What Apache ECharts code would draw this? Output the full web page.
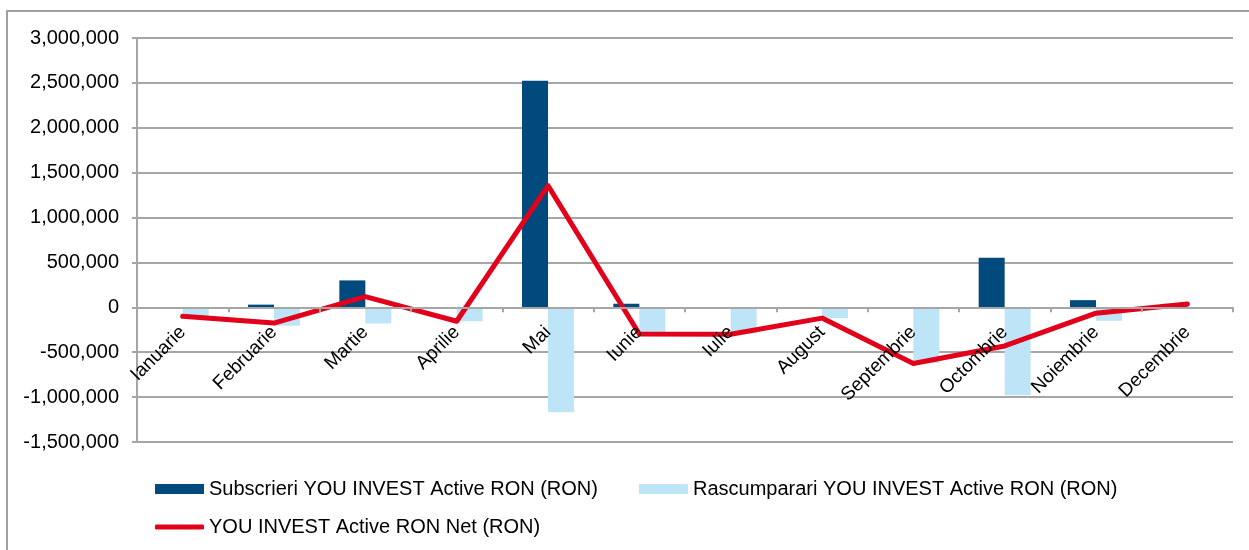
<!DOCTYPE html>
<html>
<head>
<meta charset="utf-8">
<script src="https://cdn.jsdelivr.net/npm/echarts@6/dist/echarts.min.js"></script>
<style>
html,body{margin:0;padding:0;background:#fff;}
#chart{width:1249px;height:550px;}
</style>
</head>
<body>
<div id="chart"></div>
<script>
const categories = ['Ianuarie','Februarie','Martie','Aprilie','Mai','Iunie','Iulie','August','Septembrie','Octombrie','Noiembrie','Decembrie'];
const subscrieri = [0, 30000, 300000, 0, 2525000, 40000, 0, 0, 0, 553000, 80000, 38000];
const rascumparari = [-95000, -205000, -180000, -155000, -1170000, -300000, -295000, -122000, -620000, -980000, -150000, 0];
const net = [-100000, -175000, 120000, -155000, 1355000, -297000, -300000, -120000, -625000, -430000, -65000, 38000];
const seriesNames = ['Subscrieri YOU INVEST Active RON (RON)', 'Rascumparari YOU INVEST Active RON (RON)', 'YOU INVEST Active RON Net (RON)'];
const yMin = -1500000, yMax = 3000000, yStep = 500000;

const FONT = '"Liberation Sans", Arial, sans-serif';
const GRID = '#a6a6a6';
const gridTop = 38, gridBottom = 108, H = 550;
const plotH = H - gridTop - gridBottom;
const zeroOffset = -plotH * (0 - yMin) / (yMax - yMin);

const chart = echarts.init(document.getElementById('chart'));
chart.setOption({
  animation: false,
  backgroundColor: '#fff',
  textStyle: {fontFamily: FONT, color: '#000'},
  graphic: [{
    type: 'rect', silent: true, z: -10,
    shape: {x: 7, y: 11, width: 1400, height: 700},
    style: {fill: 'none', stroke: '#a0a0a0', lineWidth: 2}
  }],
  grid: {left: 137, right: 16, top: gridTop, bottom: gridBottom, containLabel: false},
  legend: [{
    data: [seriesNames[0], seriesNames[1]],
    left: 155, top: 479, padding: 0,
    itemWidth: 49, itemHeight: 10, itemGap: 41,
    textStyle: {fontFamily: FONT, fontSize: 20, color: '#000'},
    icon: 'rect'
  },{
    data: [seriesNames[2]],
    left: 155, top: 517, padding: 0,
    itemWidth: 49, itemHeight: 5,
    icon: 'roundRect',
    itemStyle: {color: '#e2001a'},
    textStyle: {fontFamily: FONT, fontSize: 20, color: '#000'}
  }],
  xAxis: {
    type: 'category',
    data: categories,
    position: 'bottom',
    offset: zeroOffset,
    z: 10,
    axisLine: {onZero: false, lineStyle: {color: GRID, width: 2}},
    axisTick: {show: true, length: 5, inside: false, lineStyle: {color: GRID, width: 2}},
    axisLabel: {rotate: 45, margin: 22, fontSize: 19, color: '#000', fontFamily: FONT, interval: 0}
  },
  yAxis: {
    type: 'value',
    min: yMin, max: yMax, interval: yStep,
    axisLine: {show: true, lineStyle: {color: GRID, width: 2}},
    axisTick: {show: true, length: 5, lineStyle: {color: GRID, width: 2}},
    splitLine: {show: true, lineStyle: {color: GRID, width: 2}},
    axisLabel: {margin: 18, fontSize: 20, color: '#000', fontFamily: FONT,
      formatter: v => v.toLocaleString('en-US')}
  },
  series: [{
    name: seriesNames[0], type: 'bar', data: subscrieri,
    barWidth: 26, barGap: '0%',
    itemStyle: {color: '#004a7e'}
  },{
    name: seriesNames[1], type: 'bar', data: rascumparari,
    barWidth: 26, barGap: '0%',
    itemStyle: {color: '#bee4f8'}
  },{
    name: seriesNames[2], type: 'line', data: net,
    symbol: 'none', showSymbol: false, z: 5,
    lineStyle: {color: '#e2001a', width: 5, cap: 'round', join: 'round'},
    itemStyle: {color: '#e2001a'}
  }]
});
</script>
</body>
</html>
